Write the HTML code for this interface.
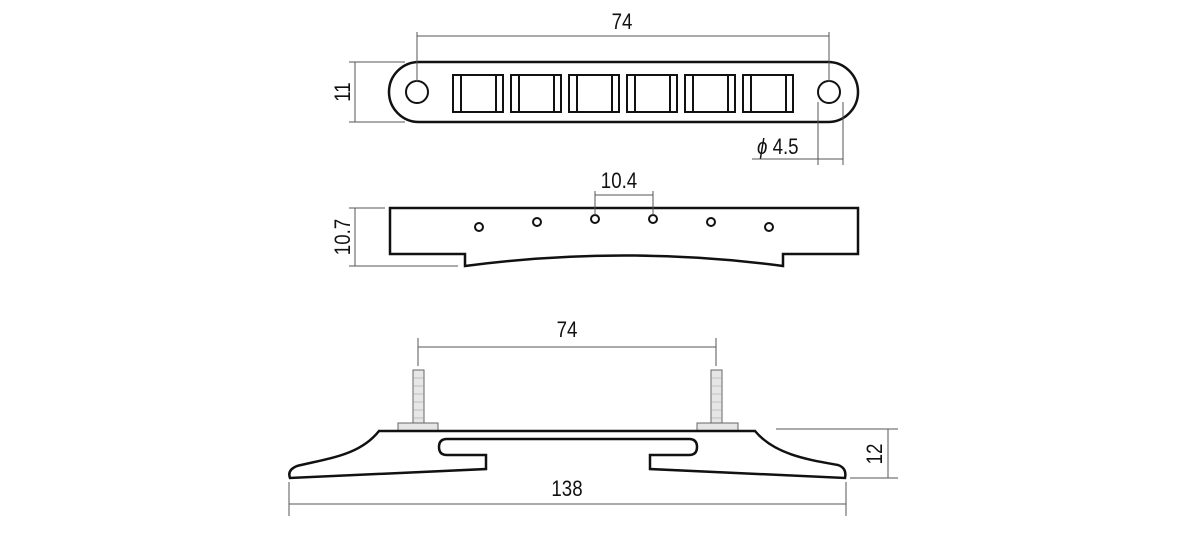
<!DOCTYPE html>
<html><head><meta charset="utf-8"><style>
html,body{margin:0;padding:0;background:#fff;}
svg{display:block}
text{font-family:"Liberation Sans",sans-serif;font-size:22px;fill:#111;}
</style></head><body>
<svg width="1200" height="540" viewBox="0 0 1200 540" xmlns="http://www.w3.org/2000/svg">
<g fill="none" stroke="#111">
<!-- TOP VIEW -->
<rect x="389" y="62" width="469" height="60" rx="30" ry="30" stroke-width="2.5"/>
<circle cx="417" cy="92" r="11" stroke-width="2"/>
<circle cx="829" cy="92" r="11" stroke-width="2"/>
<g stroke-width="2">
<rect x="453" y="75" width="50" height="37"/><line x1="461" y1="75" x2="461" y2="112"/><line x1="496" y1="75" x2="496" y2="112"/>
<rect x="511" y="75" width="50" height="37"/><line x1="519" y1="75" x2="519" y2="112"/><line x1="554" y1="75" x2="554" y2="112"/>
<rect x="569" y="75" width="50" height="37"/><line x1="577" y1="75" x2="577" y2="112"/><line x1="612" y1="75" x2="612" y2="112"/>
<rect x="627" y="75" width="50" height="37"/><line x1="635" y1="75" x2="635" y2="112"/><line x1="670" y1="75" x2="670" y2="112"/>
<rect x="685" y="75" width="50" height="37"/><line x1="693" y1="75" x2="693" y2="112"/><line x1="728" y1="75" x2="728" y2="112"/>
<rect x="743" y="75" width="50" height="37"/><line x1="751" y1="75" x2="751" y2="112"/><line x1="786" y1="75" x2="786" y2="112"/>
</g>
<g stroke-width="1" stroke="#555">
<line x1="417" y1="32" x2="417" y2="82"/><line x1="829" y1="32" x2="829" y2="82"/><line x1="417" y1="36" x2="829" y2="36"/>
<line x1="349" y1="62" x2="405" y2="62"/><line x1="349" y1="122" x2="405" y2="122"/><line x1="355" y1="62" x2="355" y2="122"/>
<line x1="818" y1="102" x2="818" y2="165"/><line x1="843" y1="102" x2="843" y2="165"/><line x1="752" y1="159" x2="843" y2="159"/>
</g>
<!-- SIDE VIEW -->
<path d="M390,208 L858,208 L858,254 L783,254 L783,266 Q624,245 465,266 L465,254 L390,254 Z" stroke-width="2.5"/>
<g stroke-width="2">
<circle cx="479" cy="227" r="4"/><circle cx="537" cy="222" r="4"/><circle cx="595" cy="219" r="4"/>
<circle cx="653" cy="219" r="4"/><circle cx="711" cy="222" r="4"/><circle cx="769" cy="227" r="4"/>
</g>
<g stroke-width="1" stroke="#555">
<line x1="595" y1="191" x2="595" y2="215"/><line x1="653" y1="191" x2="653" y2="215"/><line x1="595" y1="195" x2="653" y2="195"/>
<line x1="349" y1="208" x2="385" y2="208"/><line x1="349" y1="266" x2="458" y2="266"/><line x1="355" y1="208" x2="355" y2="266"/>
</g>
<!-- BOTTOM VIEW -->
<g stroke-width="1" stroke="#666" fill="#e6e6e6">
<rect x="413" y="370" width="11" height="54"/><rect x="398" y="423" width="40" height="8"/>
<rect x="711" y="370" width="11" height="54"/><rect x="697" y="423" width="41" height="8"/>
</g>
<g stroke-width="0.6" stroke="#999">
<path d="M413,378h11M413,386h11M413,394h11M413,402h11M413,410h11M413,418h11"/>
<path d="M711,378h11M711,386h11M711,394h11M711,402h11M711,410h11M711,418h11"/>
</g>
<path d="M379,431 L755,431 C775,455 810,460 838,465 Q847,468 845,478 L650,469 L650,455 L689,455 Q697,455 697,447 Q697,439 689,439 L447,439 Q439,439 439,447 Q439,455 447,455 L486,455 L486,469 L290,478 Q287,470 297,466 C330,458 360,455 379,431 Z" stroke-width="2.5" fill="#fff"/>
<g stroke-width="1" stroke="#555">
<line x1="418" y1="338" x2="418" y2="366"/><line x1="716" y1="338" x2="716" y2="366"/><line x1="418" y1="347" x2="716" y2="347"/>
<line x1="776" y1="429" x2="898" y2="429"/><line x1="850" y1="478" x2="898" y2="478"/><line x1="888" y1="429" x2="888" y2="478"/>
<line x1="289" y1="482" x2="289" y2="516"/><line x1="846" y1="482" x2="846" y2="516"/><line x1="289" y1="504" x2="846" y2="504"/>
</g>
</g>
<g transform="translate(622,29) scale(0.85,1)"><text text-anchor="middle">74</text></g>
<text transform="translate(350,92) rotate(-90) scale(0.85,1)" text-anchor="middle">11</text>
<g transform="translate(757,154) scale(0.85,1)"><text><tspan font-style="italic">ϕ</tspan> 4.5</text></g>
<g transform="translate(619,188) scale(0.85,1)"><text text-anchor="middle">10.4</text></g>
<text transform="translate(350,237) rotate(-90) scale(0.85,1)" text-anchor="middle">10.7</text>
<g transform="translate(567,337) scale(0.85,1)"><text text-anchor="middle">74</text></g>
<text transform="translate(882,454) rotate(-90) scale(0.85,1)" text-anchor="middle">12</text>
<g transform="translate(567,496) scale(0.85,1)"><text text-anchor="middle">138</text></g>
</svg>
</body></html>
